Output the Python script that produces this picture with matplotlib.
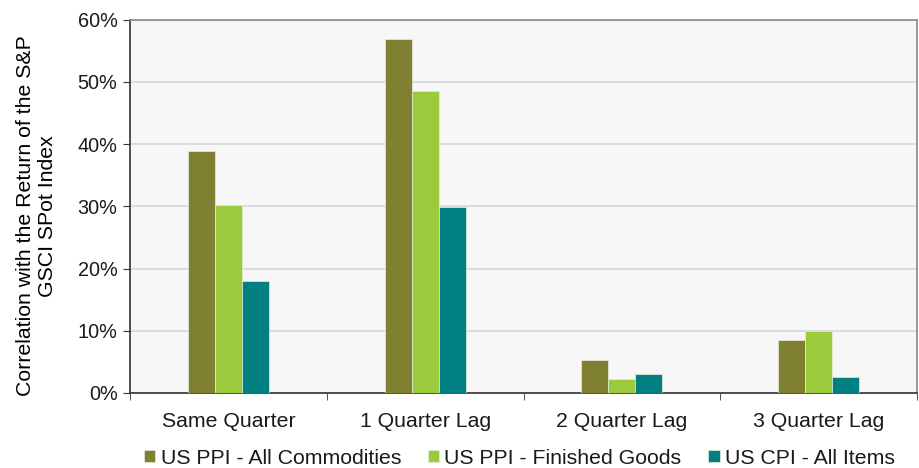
import numpy as np
import matplotlib.pyplot as plt
from matplotlib.ticker import PercentFormatter

categories = ["Same Quarter", "1 Quarter Lag", "2 Quarter Lag", "3 Quarter Lag"]
series_names = ["US PPI - All Commodities", "US PPI - Finished Goods", "US CPI - All Items"]
ppi_all = [38.9, 56.8, 5.3, 8.45]
ppi_finished = [30.15, 48.5, 2.3, 9.95]
cpi_all = [18.0, 29.8, 3.05, 2.57]
colors = ["#808033", "#9BCB3C", "#008080"]

plt.rcParams["font.family"] = ["Liberation Sans", "DejaVu Sans"]
plt.rcParams["text.color"] = "#1A1A1A"
plt.rcParams["xtick.labelcolor"] = "#1A1A1A"
plt.rcParams["ytick.labelcolor"] = "#1A1A1A"
fs = 15.3

fig = plt.figure(figsize=(9.19, 4.68), dpi=100)
ax = fig.add_axes([130 / 919, 1 - 393 / 468, 787 / 919, 373.5 / 468])
ax.set_facecolor("#F6F7F6")

x = np.arange(len(categories))
w = 0.137
for i, (vals, name) in enumerate(zip([ppi_all, ppi_finished, cpi_all], series_names)):
    ax.bar(x + (i - 1) * w, vals, width=w, color=colors[i], label=name,
           edgecolor="#E8EEE0", linewidth=0.5, zorder=3)

ax.set_xlim(-0.5, 3.5)
ax.set_ylim(0, 60)
ax.set_yticks(range(0, 61, 10))
ax.yaxis.set_major_formatter(PercentFormatter(decimals=0))
ax.grid(axis="y", color="#D6D6D6", linewidth=1.2, zorder=0)

ax.set_xticks(x)
ax.set_xticklabels(categories, fontsize=fs)
ax.set_xticks(np.arange(-0.5, 4.0, 1.0), minor=True)
ax.tick_params(axis="x", which="major", length=0, pad=14)
ax.tick_params(axis="x", which="minor", length=5, color="#333333")
ax.tick_params(axis="y", labelsize=14.3, length=5, color="#333333", pad=4)

for side in ["top", "right"]:
    ax.spines[side].set_color("#888888")
    ax.spines[side].set_linewidth(1.2)
for side in ["left", "bottom"]:
    ax.spines[side].set_color("#333333")
    ax.spines[side].set_linewidth(1.2)

ax.set_ylabel("Correlation with the Return of the S&P\nGSCI SPot Index", fontsize=fs)
ax.yaxis.set_label_coords(-0.093, 0.474)

fig.legend(loc="center", bbox_to_anchor=(519.5 / 919, 1 - 458 / 468), ncol=3, frameon=False,
           fontsize=fs, handlelength=0.52, handleheight=0.52, handletextpad=0.25,
           columnspacing=1.27, borderpad=0)

fig.savefig("out.png", dpi=100)
